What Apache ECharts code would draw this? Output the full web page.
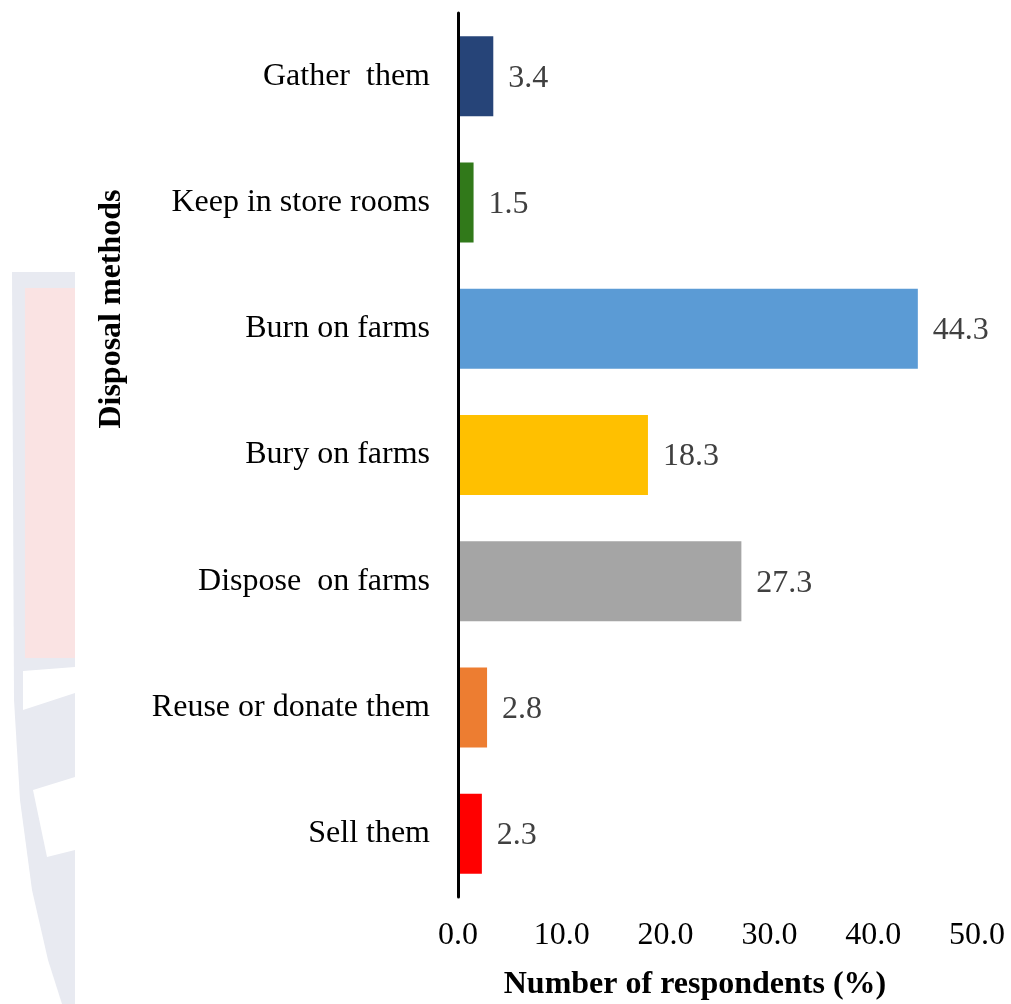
<!DOCTYPE html>
<html>
<head>
<meta charset="utf-8">
<script src="https://cdn.jsdelivr.net/npm/echarts@6/dist/echarts.min.js"></script>
<style>
  html, body { margin: 0; padding: 0; background: #fff; }
  #chart { width: 1011px; height: 1004px; }
</style>
</head>
<body>
<div id="chart"></div>
<script>
const categories = ["Gather  them", "Keep in store rooms", "Burn on farms", "Bury on farms", "Dispose  on farms", "Reuse or donate them", "Sell them"];
const values = [3.4, 1.5, 44.3, 18.3, 27.3, 2.8, 2.3];
const barColors = ["#264478", "#31791A", "#5B9BD5", "#FFC000", "#A5A5A5", "#ED7D31", "#FF0000"];
const xTicks = [0, 10, 20, 30, 40, 50];
const xAxisTitle = "Number of respondents (%)";
const yAxisTitle = "Disposal methods";

const FONT = '"Liberation Serif", "Times New Roman", serif';
const chart = echarts.init(document.getElementById('chart'));

const option = {
  backgroundColor: '#ffffff',
  animation: false,
  grid: { left: 458, right: 34, top: 13, bottom: 107, containLabel: false },
  xAxis: {
    type: 'value',
    min: xTicks[0],
    max: xTicks[xTicks.length - 1],
    interval: 10,
    axisLine: { show: false },
    axisTick: { show: false },
    splitLine: { show: false },
    axisLabel: {
      margin: 23,
      fontFamily: FONT,
      fontSize: 32,
      color: '#000',
      formatter: v => v.toFixed(1)
    }
  },
  yAxis: {
    type: 'category',
    inverse: true,
    data: categories,
    z: 5,
    axisLine: { show: true, lineStyle: { color: '#000', width: 3 } },
    axisTick: { show: false },
    axisLabel: {
      margin: 28,
      fontFamily: FONT,
      fontSize: 32,
      color: '#000'
    }
  },
  series: [{
    type: 'bar',
    data: values.map((v, i) => ({ value: v, itemStyle: { color: barColors[i] } })),
    barWidth: 80,
    label: {
      show: true,
      position: 'right',
      distance: 15,
      offset: [0, 2],
      fontFamily: FONT,
      fontSize: 32,
      color: '#404040',
      formatter: p => p.value.toFixed(1)
    }
  }],
  graphic: [
    { type: 'polygon', z: -10, silent: true,
      shape: { points: [[12,272],[75,272],[75,1004],[62,1004],[48,960],[32,890],[20,800],[14,700]] },
      style: { fill: '#e8eaf1' } },
    { type: 'rect', z: -9, silent: true,
      shape: { x: 25, y: 288, width: 50, height: 370 },
      style: { fill: '#fae3e3' } },
    { type: 'polygon', z: -9, silent: true,
      shape: { points: [[23,671],[75,667],[75,693],[23,710]] },
      style: { fill: '#ffffff' } },
    { type: 'polygon', z: -9, silent: true,
      shape: { points: [[33,790],[75,777],[75,850],[47,857]] },
      style: { fill: '#ffffff' } },
    { type: 'text', silent: true, x: 695, y: 985,
      style: { text: xAxisTitle, font: 'bold 32px ' + FONT, fill: '#000', textAlign: 'center', textVerticalAlign: 'middle' } },
    { type: 'text', silent: true, rotation: Math.PI / 2, x: 112, y: 309,
      style: { text: yAxisTitle, font: 'bold 32px ' + FONT, fill: '#000', textAlign: 'center', textVerticalAlign: 'middle' } }
  ]
};

chart.setOption(option);
</script>
</body>
</html>
